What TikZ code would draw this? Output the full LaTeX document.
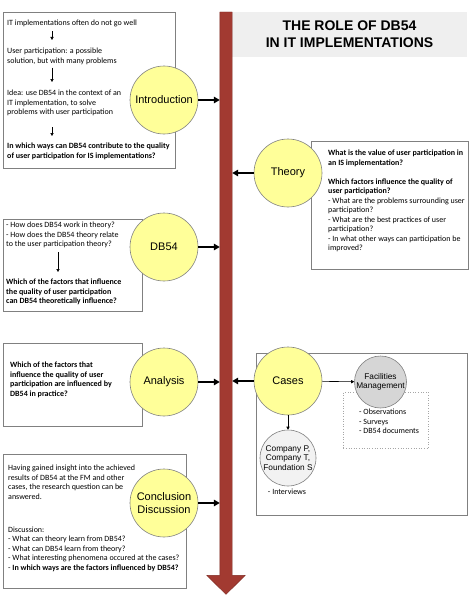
\documentclass[tikz,border=0pt]{standalone}
\usepackage{fontspec}
\setmainfont{Carlito}
\newfontfamily\arialfont{Liberation Sans}
\usepackage{tikz}
\usetikzlibrary{arrows.meta,positioning,calc}
\usepackage{xcolor}
\definecolor{shaftred}{HTML}{A23A31}
\definecolor{shaftedge}{HTML}{7E2A23}
\definecolor{phaseyellow}{HTML}{FFFF99}
\definecolor{frameedge}{HTML}{808080}
\definecolor{titlebg}{HTML}{EFEFEF}
\definecolor{fmgray}{HTML}{D6D6D6}
\definecolor{companygray}{HTML}{F2F2F2}

\begin{document}
\begin{tikzpicture}[
  x=1pt, y=-1pt,
  font=\fontsize{8}{9.5}\selectfont,
  >=Latex,
  phase/.style={
    circle,
    draw=frameedge,
    fill=phaseyellow,
    line width=0.6pt,
    minimum size=68pt,
    inner sep=0pt,
    align=center,
    font=\arialfont\fontsize{11}{13.3}\selectfont
  },
  subcase/.style={
    circle,
    draw=frameedge,
    line width=0.6pt,
    inner sep=0pt,
    align=center,
    font=\arialfont\fontsize{8.3}{9.5}\selectfont
  },
  frame/.style={
    draw=frameedge,
    line width=0.6pt,
    inner sep=0pt,
    anchor=north west
  },
  boxtext/.style={
    inner sep=0pt,
    align=left,
    anchor=north west
  },
  phasearrow/.style={
    line width=1.5pt,
    -{Triangle[length=6pt,width=6.5pt]}
  },
  steparrow/.style={
    line width=0.6pt,
    -{Triangle[length=3pt,width=3.2pt]}
  }
]
  \useasboundingbox (0,0) rectangle (475,602);

  % Title banner
  \node[fill=titlebg, minimum width=235pt, minimum height=45pt, inner sep=0pt,
        align=center, font=\arialfont\bfseries\fontsize{14}{17}\selectfont]
        (title) at (349.5,34.5) {THE ROLE OF DB54\\IN IT IMPLEMENTATIONS};

  % Timeline shaft with its head
  \node[fill=shaftred, minimum width=12pt, minimum height=563pt, inner sep=0pt, anchor=north]
        (shaft) at (226,12) {};
  \draw[shaftedge, fill=shaftred, line width=0.4pt]
    (shaft.north west) -- (shaft.north east) -- (shaft.south east) -- ++(13,0)
    -- ($(shaft.south)+(0,19)$) -- ($(shaft.south west)+(-13,0)$) -- (shaft.south west) -- cycle;

  % Frames
  \node[frame, minimum width=172pt, minimum height=156pt] (introbox) at (3,12) {};
  \node[frame, minimum width=157pt, minimum height=128pt] (theorybox) at (311,141) {};
  \node[frame, minimum width=139pt, minimum height=92pt] (dbbox) at (3,219) {};
  \node[frame, minimum width=139pt, minimum height=83pt] (analysisbox) at (3,343) {};
  \node[frame, minimum width=211pt, minimum height=162pt] (casesbox) at (256,353) {};
  \node[frame, minimum width=183pt, minimum height=134pt] (conclusionbox) at (3,454) {};
  \node[frame, draw=frameedge!70, dotted, minimum width=85pt, minimum height=56pt] (fmbox) at (343,392) {};

  % Introduction text
  \node[boxtext] (i1) at (7,20) {IT implementations often do not go well};
  \node[boxtext] (i2) at (7,48) {User participation: a possible\\solution, but with many problems};
  \node[boxtext] (i3) at (7,90) {Idea: use DB54 in the context of an\\IT implementation, to solve\\problems with user participation};
  \node[boxtext, font=\fontsize{8}{9.5}\selectfont\bfseries] (i4) at (7,143)
    {In which ways can DB54 contribute to the quality\\of user participation for IS implementations?};
  \draw[steparrow, shorten <=4pt, shorten >=8pt] ([xshift=45pt]i1.south west) -- ([xshift=45pt]i2.north west);
  \draw[steparrow, shorten <=3pt, shorten >=8pt] ([xshift=45pt]i2.south west) -- ([xshift=45pt]i3.north west);
  \draw[steparrow, shorten <=11pt, shorten >=7pt] ([xshift=45pt]i3.south west) -- ([xshift=45pt]i4.north west);

  % Theory text
  \node[boxtext] (t1) at (328,150) {%
    \textbf{What is the value of user participation in}\\
    \textbf{an IS implementation?}\\[9.5pt]
    \textbf{Which factors influence the quality of}\\
    \textbf{user participation?}\\
    - What are the problems surrounding user\\participation?\\
    - What are the best practices of user\\participation?\\
    - In what other ways can participation be\\improved?};

  % DB54 text
  \node[boxtext] (d1) at (6,222) {- How does DB54 work in theory?\\- How does the DB54 theory relate\\to the user participation theory?};
  \node[boxtext, font=\fontsize{8}{9.5}\selectfont\bfseries] (d2) at (6,279)
    {Which of the factors that influence\\the quality of user participation\\can DB54 theoretically influence?};
  \draw[steparrow, shorten <=4pt, shorten >=7pt] ([xshift=52pt]d1.south west) -- ([xshift=52pt]d2.north west);

  % Analysis text
  \node[boxtext, font=\fontsize{8}{9.5}\selectfont\bfseries] (a1) at (10,362)
    {Which of the factors that\\influence the quality of user\\participation are influenced by\\DB54 in practice?};

  % Conclusion text
  \node[boxtext] (c1) at (8,465) {%
    Having gained insight into the achieved\\
    results of DB54 at the FM and other\\
    cases, the research question can be\\
    answered.\\[23.5pt]
    Discussion:\\
    - What can theory learn from DB54?\\
    - What can DB54 learn from theory?\\
    - What interesting phenomena occured at the cases?\\
    - \textbf{In which ways are the factors influenced by DB54?}};

  % Phases along the timeline
  \node[phase] (intro) at (164,100) {Introduction};
  \node[phase] (theory) at (288,173) {Theory};
  \node[phase] (db54) at (164,247) {DB54};
  \node[phase] (analysis) at (164,382) {Analysis};
  \node[phase] (cases) at (288,381) {Cases};
  \node[phase] (conclusion) at (164,503) {Conclusion\\Discussion};

  \draw[phasearrow] (intro) -- (intro -| shaft.west);
  \draw[phasearrow] (theory) -- (theory -| shaft.east);
  \draw[phasearrow] (db54) -- (db54 -| shaft.west);
  \draw[phasearrow] (analysis) -- (analysis -| shaft.west);
  \draw[phasearrow] (cases) -- (cases -| shaft.east);
  \draw[phasearrow] (conclusion) -- (conclusion -| shaft.west);

  % Cases
  \node[subcase, fill=fmgray, minimum size=52pt] (fm) at (380.5,382) {Facilities\\Management};
  \node[subcase, fill=companygray, minimum size=56pt] (company) at (288,458) {Company P,\\Company T,\\Foundation S};
  \draw[steparrow] (cases) -- (fm);
  \draw[steparrow] (cases) -- (company);

  \node[boxtext] (fmlist) at (359,409) {- Observations\\- Surveys\\- DB54 documents};
  \node[inner sep=0pt] (interviews) at (287,492) {- Interviews};

\end{tikzpicture}
\end{document}
